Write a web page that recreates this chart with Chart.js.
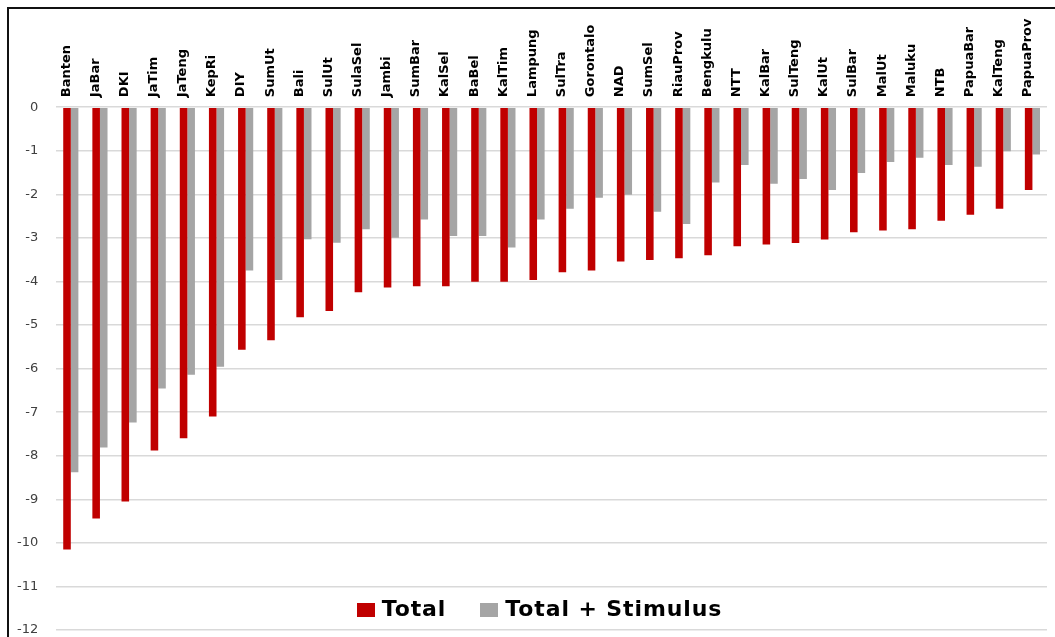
<!DOCTYPE html>
<html>
<head>
<meta charset="utf-8">
<script src="https://cdn.jsdelivr.net/npm/chart.js@4.4.1/dist/chart.umd.min.js"></script>
<style>
  html, body { margin: 0; padding: 0; background: #fff; }
  #wrap { position: relative; width: 1055px; height: 637px; overflow: hidden; }
  #chart { position: absolute; left: 0; top: 0; }
  #frame {
    position: absolute; left: 7px; top: 7px; right: -10px; bottom: -10px;
    border-left: 2px solid #111; border-top: 2px solid #111; pointer-events: none;
  }
  #legend {
    position: absolute; left: 0; top: 598px; width: 1079px;
    display: flex; justify-content: center; align-items: flex-start;
    font-family: "DejaVu Sans", sans-serif; font-weight: bold; font-size: 22px;
    line-height: 22px; letter-spacing: 0.9px; color: #000;
  }
  .item { display: flex; align-items: flex-start; margin: 0 17px; }
  .swatch { width: 18px; height: 14px; margin-top: 5px; margin-right: 7px; }
</style>
</head>
<body>
<div id="wrap">
  <canvas id="chart" width="1055" height="637"></canvas>
  <div id="legend"></div>
  <div id="frame"></div>
</div>
<script>
// Provinces, ordered by the size of the total decline
const provinces = [
  "Banten", "JaBar", "DKI", "JaTim", "JaTeng", "KepRi", "DIY", "SumUt", "Bali", "SulUt",
  "SulaSel", "Jambi", "SumBar", "KalSel", "BaBel", "KalTim", "Lampung", "SulTra", "Gorontalo", "NAD",
  "SumSel", "RiauProv", "Bengkulu", "NTT", "KalBar", "SulTeng", "KalUt", "SulBar", "MalUt", "Maluku",
  "NTB", "PapuaBar", "KalTeng", "PapuaProv"
];

// Total effect
const totalValues = [
  -10.15, -9.44, -9.05, -7.88, -7.60, -7.10, -5.57, -5.35, -4.82, -4.68,
  -4.25, -4.14, -4.11, -4.11, -4.01, -4.01, -3.97, -3.79, -3.75, -3.54,
  -3.51, -3.47, -3.40, -3.19, -3.15, -3.12, -3.04, -2.87, -2.83, -2.80,
  -2.61, -2.47, -2.33, -1.90
];

// Total effect including the stimulus package
const stimulusValues = [
  -8.38, -7.81, -7.24, -6.46, -6.14, -5.96, -3.75, -3.97, -3.03, -3.11,
  -2.80, -3.00, -2.58, -2.96, -2.96, -3.22, -2.58, -2.33, -2.08, -2.01,
  -2.40, -2.68, -1.73, -1.33, -1.76, -1.65, -1.90, -1.51, -1.26, -1.16,
  -1.33, -1.37, -1.01, -1.09
];

// Value axis range and tick step
const yMin = -12;
const yMax = 0;
const yStep = 1;

const seriesNames = ["Total", "Total + Stimulus"];
const seriesColors = ["#c00000", "#a5a5a5"];

const chart = new Chart(document.getElementById("chart"), {
  type: "bar",
  data: {
    labels: provinces,
    datasets: [
      { label: seriesNames[0], data: totalValues, backgroundColor: seriesColors[0],
        categoryPercentage: 0.52, barPercentage: 1.0 },
      { label: seriesNames[1], data: stimulusValues, backgroundColor: seriesColors[1],
        categoryPercentage: 0.52, barPercentage: 1.0 }
    ]
  },
  options: {
    responsive: false,
    maintainAspectRatio: false,
    animation: false,
    layout: { padding: { left: -1, right: 8, top: 8.5, bottom: 6 } },
    plugins: {
      legend: { display: false },
      tooltip: { enabled: false }
    },
    scales: {
      x: {
        position: "top",
        grid: { display: false, drawTicks: false },
        border: { display: false },
        ticks: {
          autoSkip: false, minRotation: 90, maxRotation: 90, padding: 10,
          labelOffset: 11,
          color: "#000",
          font: { family: "DejaVu Sans", weight: "bold", size: 13 }
        }
      },
      y: {
        min: yMin, max: yMax,
        grid: { color: "#d9d9d9", lineWidth: 1.5, drawTicks: false },
        border: { display: false },
        ticks: {
          stepSize: yStep, padding: 18, color: "#404040",
          font: { family: "DejaVu Sans", size: 13, lineHeight: 1.0 }
        },
        // keep only half a label of room above and below the plot
        afterFit: (scale) => { scale.paddingTop = 7; scale.paddingBottom = 7; }
      }
    }
  }
});

// Legend built from the chart's datasets
const legendEl = document.getElementById("legend");
chart.data.datasets.forEach(ds => {
  const item = document.createElement("div");
  item.className = "item";
  const sw = document.createElement("span");
  sw.className = "swatch";
  sw.style.background = ds.backgroundColor;
  const txt = document.createElement("span");
  txt.textContent = ds.label;
  item.appendChild(sw);
  item.appendChild(txt);
  legendEl.appendChild(item);
});
</script>
</body>
</html>
